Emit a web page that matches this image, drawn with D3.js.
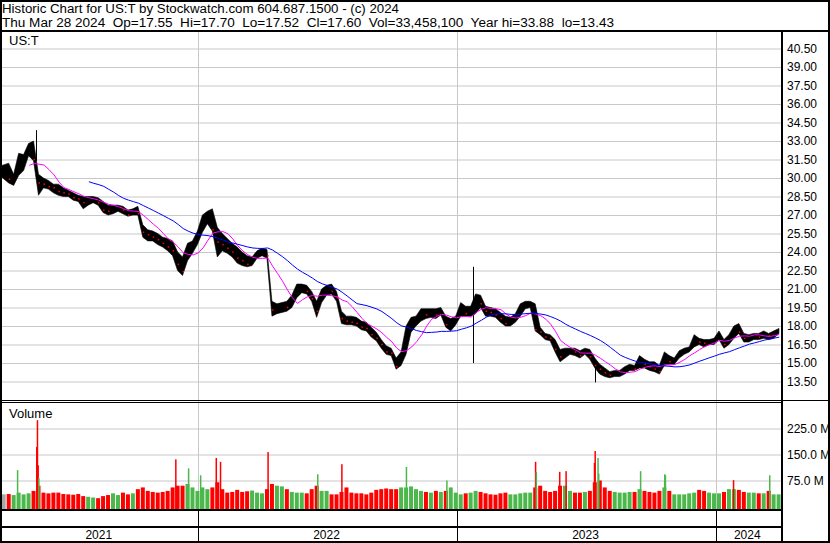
<!DOCTYPE html>
<html>
<head>
<meta charset="utf-8">
<script src="https://cdn.jsdelivr.net/npm/d3@7"></script>
<style>
  body { margin: 0; background: #fff; }
  svg text { font-family: Arial, "Liberation Sans", sans-serif; fill: #000; }
</style>
</head>
<body>
<div id="chart"></div>
<script>
// weekly bars (week of Mon 2021-03-29 .. week of Mon 2024-03-25)
var weekHigh = [
  31.0, 31.2, 30.3, 32.0, 31.9, 32.8, 33.0, 30.3, 30.0, 29.8,
  29.5, 29.5, 29.2, 29.0, 28.8, 28.6, 28.5, 28.5, 28.5, 28.4,
  28.1, 27.8, 27.8, 27.8, 27.7, 27.4, 27.5, 27.7, 26.2, 25.8,
  25.7, 25.5, 25.2, 25.1, 24.9, 24.0, 23.6, 24.7, 24.9, 25.7,
  27.0, 27.3, 27.5, 26.0, 25.5, 25.1, 24.7, 24.4, 24.0, 23.7,
  23.6, 24.1, 24.3, 24.2, 20.0, 19.8, 19.9, 20.0, 20.5, 21.4,
  21.4, 21.3, 20.8, 20.0, 21.0, 21.3, 21.4, 20.8, 19.2, 18.8,
  18.8, 18.7, 18.4, 18.3, 17.9, 17.5, 16.9, 16.4, 16.2, 15.4,
  15.9, 18.0, 18.7, 18.8, 19.4, 19.4, 19.4, 19.4, 19.5, 18.8,
  18.6, 18.8, 19.9, 19.6, 19.6, 20.6, 20.5, 19.6, 19.5, 19.4,
  19.1, 18.8, 18.7, 19.0, 19.8, 20.0, 20.0, 19.8, 17.9, 17.4,
  17.3, 16.9, 16.1, 16.2, 16.2, 16.2, 16.0, 16.2, 16.1, 15.4,
  14.9, 14.6, 14.3, 14.4, 14.4, 14.7, 14.9, 14.8, 15.6, 15.3,
  15.1, 15.1, 14.8, 15.9, 15.6, 15.4, 16.0, 16.2, 16.3, 17.3,
  17.0, 16.9, 16.9, 17.0, 17.6, 16.9, 17.3, 18.0, 18.2, 17.4,
  17.3, 17.4, 17.4, 17.6, 17.4, 17.6, 17.8
];
var weekLow = [
  30.1, 29.6, 29.4, 30.2, 30.6, 31.8, 31.4, 28.6, 29.2, 29.1,
  28.8, 28.6, 28.5, 28.5, 28.2, 28.1, 27.5, 27.8, 28.0, 27.8,
  27.2, 27.0, 27.1, 27.3, 27.1, 26.9, 27.0, 27.0, 25.2, 24.9,
  24.9, 24.6, 24.4, 24.1, 23.7, 22.5, 22.1, 23.3, 23.9, 24.6,
  25.6, 26.3, 25.7, 23.6, 24.1, 23.9, 23.6, 23.1, 22.9, 22.8,
  22.9, 23.5, 23.7, 23.5, 18.8, 19.0, 19.1, 19.2, 19.5, 20.3,
  20.7, 20.6, 20.0, 18.7, 19.9, 20.5, 20.6, 20.0, 18.2, 18.1,
  18.1, 18.0, 17.7, 17.6, 17.1, 16.8, 16.2, 15.7, 15.6, 14.5,
  14.8, 15.7, 17.5, 18.0, 18.4, 18.6, 18.7, 18.6, 18.9, 17.9,
  17.6, 18.1, 18.8, 18.8, 18.8, 19.0, 19.5, 18.8, 18.8, 18.7,
  18.3, 18.0, 18.0, 18.3, 18.8, 19.4, 19.5, 17.6, 17.3, 16.9,
  16.8, 15.9, 15.1, 15.4, 15.7, 15.6, 15.4, 15.7, 15.3, 14.6,
  14.1, 13.9, 13.8, 13.9, 13.9, 14.1, 14.4, 14.4, 14.6, 14.6,
  14.4, 14.3, 14.1, 14.8, 14.9, 14.9, 15.4, 15.7, 15.9, 16.3,
  16.5, 16.3, 16.5, 16.5, 16.9, 16.2, 16.5, 17.0, 17.4, 16.7,
  16.7, 16.9, 16.9, 17.0, 16.9, 17.0, 17.4
];
var weekClose = [
  30.7, 29.9, 29.9, 31.6, 31.7, 32.4, 31.5, 29.6, 29.5, 29.3,
  29.2, 28.9, 28.8, 28.7, 28.4, 28.3, 28.0, 28.2, 28.3, 28.0,
  27.4, 27.3, 27.5, 27.5, 27.4, 27.0, 27.2, 27.1, 25.6, 25.4,
  25.2, 25.0, 24.7, 24.4, 24.1, 23.0, 22.4, 24.2, 24.5, 25.3,
  26.6, 26.8, 25.8, 24.8, 24.6, 24.3, 24.0, 23.5, 23.3, 23.0,
  23.3, 23.8, 24.0, 23.7, 19.3, 19.4, 19.6, 19.5, 20.2, 21.0,
  21.1, 20.8, 20.2, 19.2, 20.7, 21.0, 20.8, 20.3, 18.6, 18.4,
  18.3, 18.2, 17.9, 17.8, 17.3, 17.0, 16.5, 15.9, 15.8, 14.7,
  15.6, 17.6, 18.2, 18.5, 19.1, 18.9, 19.0, 18.9, 19.3, 18.1,
  18.3, 18.4, 19.5, 19.0, 19.1, 20.3, 19.8, 19.2, 19.1, 18.9,
  18.6, 18.2, 18.3, 18.8, 19.5, 19.7, 19.8, 17.7, 17.5, 17.1,
  17.0, 16.1, 15.5, 15.8, 16.0, 15.9, 15.6, 16.0, 15.5, 14.8,
  14.5, 14.2, 14.0, 14.1, 14.1, 14.4, 14.7, 14.5, 15.3, 14.9,
  14.7, 14.5, 14.3, 15.5, 15.1, 15.2, 15.8, 15.9, 16.1, 16.9,
  16.7, 16.6, 16.7, 16.8, 17.3, 16.5, 17.1, 17.8, 17.5, 17.0,
  17.1, 17.2, 17.1, 17.3, 17.2, 17.4, 17.6
];
// typical daily volume per week, millions
var weekVolume = [
  35, 36, 33, 40, 35, 38, 45, 60, 40, 38,
  40, 40, 36, 35, 34, 36, 30, 28, 26, 24,
  30, 33, 38, 33, 40, 35, 38, 50, 55, 45,
  42, 40, 42, 45, 55, 60, 60, 65, 55, 45,
  55, 50, 55, 70, 50, 40, 42, 48, 42, 44,
  46, 40, 38, 50, 65, 60, 58, 50, 42, 40,
  40, 38, 50, 60, 45, 45, 35, 35, 42, 55,
  40, 38, 38, 35, 40, 48, 50, 52, 50, 50,
  55, 55, 58, 50, 45, 42, 40, 45, 42, 45,
  55, 40, 35, 38, 40, 45, 42, 38, 35, 34,
  38, 40, 35, 35, 38, 40, 40, 55, 60, 45,
  42, 45, 60, 60, 45, 40, 40, 42, 45, 70,
  75, 55, 45, 42, 40, 40, 42, 42, 50, 45,
  42, 40, 45, 55, 45, 35, 35, 35, 38, 40,
  48, 45, 40, 38, 38, 42, 50, 50, 48, 42,
  40, 40, 38, 38, 45, 35, 35
];
// single days that stand out
var spikeDays = ["2021-05-17", "2023-01-23", "2023-07-14"];
var spikeHigh = [33.88, 22.8, 14.7];
var spikeLow = [31.4, 15.0, 13.43];

var volSpikeDays = ["2021-04-20", "2021-05-17", "2021-05-18", "2021-05-19", "2021-05-20",
  "2021-11-29", "2021-12-17", "2022-01-03", "2022-01-25", "2022-01-31", "2022-04-08",
  "2022-06-17", "2022-07-21", "2022-10-20", "2022-12-16", "2023-04-20", "2023-04-21",
  "2023-05-24", "2023-06-02", "2023-07-12", "2023-07-13", "2023-07-17", "2023-07-18",
  "2023-09-15", "2023-10-19", "2023-10-20", "2024-01-24", "2024-03-15"];
var volSpikeValues = [105, 172, 249, 119, 82, 136, 110, 90, 140, 129, 157, 93, 122, 114, 75,
  129, 100, 100, 102, 126, 160, 140, 95, 102, 93, 90, 76, 90];
var volSpikeUp = [1, 0, 0, 0, 1, 0, 1, 1, 0, 0, 0, 1, 0, 1, 1, 0, 1, 0, 0, 0, 0, 1, 1, 1, 1, 1, 0, 1];

var priceTicks = [13.5, 15, 16.5, 18, 19.5, 21, 22.5, 24, 25.5, 27, 28.5, 30, 31.5, 33, 34.5, 36, 37.5, 39, 40.5];
var volumeTicks = [75, 150, 225];
var years = [2021, 2022, 2023, 2024];

var width = 830,
  height = 543;
var plotLeft = 2,
  plotRight = 781;
var red = "#ff0000",
  green = "#4cb84c",
  grey = "#a8a8a8",
  gridColor = "#c8c8c8";

var svg = d3.select("#chart")
  .append("svg")
  .attr("width", width)
  .attr("height", height);

var parseDay = d3.timeParse("%Y-%m-%d");
var weeks = d3.timeMonday.range(new Date(2021, 2, 29), new Date(2024, 2, 30));
var last = weeks.length - 1;

var x = d3.scaleTime()
  .domain([new Date(2022, 0, 1), new Date(2024, 0, 1)])
  .range([198.5, 716.5]);

var y = d3.scaleLinear().domain([13.5, 40.5]).range([381.5, 48.5]);
var vy = d3.scaleLinear().domain([0, 225]).range([506.5, 428.5]);
var volBase = 509;

// x of a week's bar: the first and last week are pinned to the plot edges
function weekX(i) {
  if (i === 0) return x(weeks[0]);
  if (i === last) return x(d3.timeDay.offset(weeks[last], 4));
  return x(d3.timeHour.offset(weeks[i], 84));
}

// ---- grid + right axes
var priceAxis = svg.append("g")
  .attr("transform", "translate(782,0)")
  .call(d3.axisRight(y)
    .tickValues(priceTicks)
    .tickSize(-(782 - plotLeft))
    .tickPadding(5)
    .tickFormat(d3.format(".2f")));

var volAxis = svg.append("g")
  .attr("transform", "translate(782,0)")
  .call(d3.axisRight(vy)
    .tickValues(volumeTicks)
    .tickSize(-(782 - plotLeft))
    .tickPadding(5)
    .tickFormat(function (d) { return d.toFixed(1) + " M" }));

[priceAxis, volAxis].forEach(function (g) {
  g.select(".domain").remove();
  g.selectAll(".tick line").attr("stroke", gridColor);
  g.selectAll(".tick text")
    .attr("font-size", 12)
    .attr("font-family", "Arial, 'Liberation Sans', sans-serif")
    .attr("fill", "#000");
});

var yearStarts = years.slice(1).map(function (yr) { return new Date(yr, 0, 1) });

svg.selectAll(".vgrid")
  .data(yearStarts)
  .enter()
  .append("line")
  .attr("x1", function (d) { return x(d) })
  .attr("x2", function (d) { return x(d) })
  .attr("y1", 32)
  .attr("y2", volBase)
  .attr("stroke", gridColor);

// ---- volume
svg.selectAll(".vol")
  .data(weekVolume)
  .enter()
  .append("rect")
  .attr("x", function (d, i) { return x(weeks[i]) + 0.5 })
  .attr("width", 4)
  .attr("y", function (d) { return vy(d) })
  .attr("height", function (d) { return volBase - vy(d) })
  .attr("fill", function (d, i) {
    if (i === 0) return grey;
    return weekClose[i] >= weekClose[i - 1] ? green : red;
  });

svg.selectAll(".volspike")
  .data(volSpikeValues)
  .enter()
  .append("rect")
  .attr("x", function (d, i) { return x(parseDay(volSpikeDays[i])) })
  .attr("width", 1.5)
  .attr("y", function (d) { return vy(d) })
  .attr("height", function (d) { return volBase - vy(d) })
  .attr("fill", function (d, i) { return volSpikeUp[i] ? green : red });

// ---- price: weekly high/low band
var band = d3.area()
  .x(function (d, i) { return weekX(i) })
  .y0(function (d, i) { return y(weekLow[i]) })
  .y1(function (d) { return y(d) });

svg.append("path")
  .datum(weekHigh)
  .attr("d", band)
  .attr("fill", "#000")
  .attr("stroke", "#000")
  .attr("stroke-width", 0.6);

svg.selectAll(".spike")
  .data(spikeHigh)
  .enter()
  .append("line")
  .attr("x1", function (d, i) { return Math.round(x(parseDay(spikeDays[i]))) + 0.5 })
  .attr("x2", function (d, i) { return Math.round(x(parseDay(spikeDays[i]))) + 0.5 })
  .attr("y1", function (d) { return y(d) })
  .attr("y2", function (d, i) { return y(spikeLow[i]) })
  .attr("stroke", "#000");

// red close marks on down weeks
svg.selectAll(".closetick")
  .data(weekClose)
  .enter()
  .append("rect")
  .attr("x", function (d, i) { return weekX(i) })
  .attr("y", function (d) { return y(d) - 0.75 })
  .attr("width", 1.5)
  .attr("height", 1.5)
  .attr("fill", red)
  .attr("display", function (d, i) { return i > 0 && d < weekClose[i - 1] ? null : "none" });

// ---- moving averages
function movingAverage(n) {
  var out = [];
  for (var i = n - 1; i < weekClose.length; i++) {
    out.push({
      date: d3.timeHour.offset(weeks[i], 108),
      value: d3.mean(weekClose.slice(i - n + 1, i + 1))
    });
  }
  return out;
}

var line = d3.line()
  .x(function (d) { return x(d.date) })
  .y(function (d) { return y(d.value) });

svg.append("path")
  .datum(movingAverage(6))
  .attr("d", line)
  .attr("fill", "none")
  .attr("stroke", "#ff00ff")
  .attr("stroke-width", 1);

svg.append("path")
  .datum(movingAverage(18))
  .attr("d", line)
  .attr("fill", "none")
  .attr("stroke", "#0000ff")
  .attr("stroke-width", 1);

// ---- labels
svg.append("text")
  .attr("x", 2).attr("y", 13)
  .attr("font-size", "12px")
  .attr("textLength", 397)
  .attr("lengthAdjust", "spacingAndGlyphs")
  .text("Historic Chart for US:T by Stockwatch.com 604.687.1500 - (c) 2024");

svg.append("text")
  .attr("x", 2).attr("y", 26.5)
  .attr("font-size", "12px")
  .attr("textLength", 612)
  .attr("lengthAdjust", "spacingAndGlyphs")
  .style("white-space", "pre")
  .text("Thu Mar 28 2024  Op=17.55  Hi=17.70  Lo=17.52  Cl=17.60  Vol=33,458,100  Year hi=33.88  lo=13.43");

svg.append("text").attr("x", 9).attr("y", 45).attr("font-size", "13px").text("US:T");
svg.append("text").attr("x", 9).attr("y", 418).attr("font-size", "13px").text("Volume");

var yearBounds = [plotLeft].concat(yearStarts.map(function (d) { return x(d) })).concat([plotRight]);

svg.selectAll(".year")
  .data(years)
  .enter()
  .append("text")
  .attr("x", function (d, i) { return (yearBounds[i] + yearBounds[i + 1]) / 2 - 1.5 })
  .attr("y", 539)
  .attr("text-anchor", "middle")
  .attr("font-size", "12px")
  .text(function (d) { return d });

// ---- frame
function hline(y0, x1, x2, w) {
  svg.append("line").attr("x1", x1).attr("x2", x2).attr("y1", y0).attr("y2", y0)
    .attr("stroke", "#000").attr("stroke-width", w);
}
hline(31, 0, width, 2);
hline(400.5, 0, width, 1);
hline(402.5, 0, 782, 1);
hline(510, 0, 782, 2);
hline(527, 0, 782, 2);

svg.selectAll(".ysep")
  .data(yearStarts)
  .enter()
  .append("line")
  .attr("x1", function (d) { return x(d) })
  .attr("x2", function (d) { return x(d) })
  .attr("y1", 510)
  .attr("y2", 542)
  .attr("stroke", "#000");

svg.append("line")
  .attr("x1", 782).attr("x2", 782).attr("y1", 31).attr("y2", 542)
  .attr("stroke", "#000").attr("stroke-width", 2);

svg.append("rect")
  .attr("x", 1).attr("y", 1)
  .attr("width", width - 2).attr("height", height - 2)
  .attr("fill", "none")
  .attr("stroke", "#000")
  .attr("stroke-width", 2);
</script>
</body>
</html>
